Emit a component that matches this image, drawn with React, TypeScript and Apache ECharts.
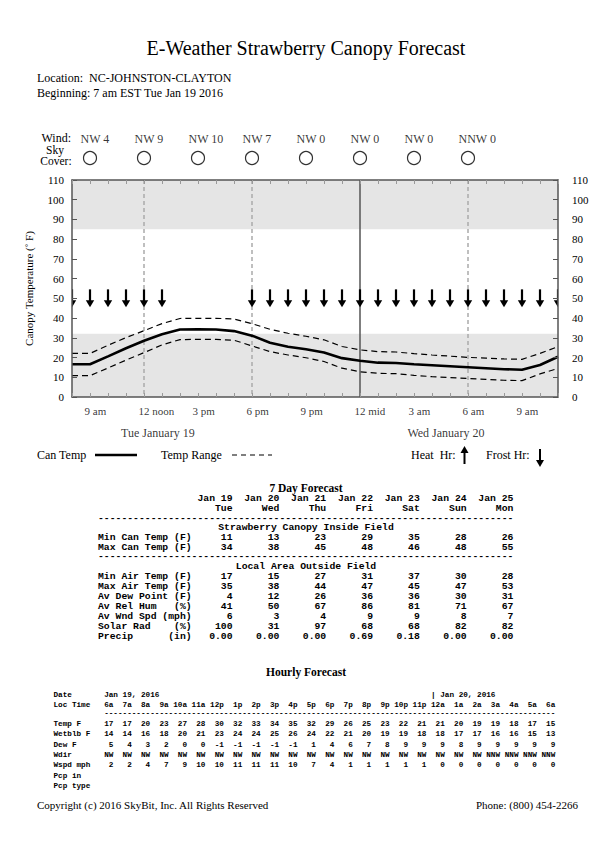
import React, { useEffect, useRef } from 'react';
import * as echarts from 'echarts';

// ---------------- data ----------------
const canTemp = [16.6, 16.6, 20.6, 24.7, 28.5, 31.8, 34.2, 34.3, 34.2, 33.4, 31.1, 27.5, 25.5, 24.2, 22.6, 19.7, 18.4, 17.4, 17.2, 16.6, 16.1, 15.6, 15.1, 14.6, 14.1, 13.8, 16.2, 20.4];
const rangeHigh = [22.1, 22.1, 26.2, 30.1, 33.6, 37.2, 39.8, 39.9, 39.9, 39.5, 37.2, 34.3, 32.3, 30.8, 29.0, 25.6, 23.9, 23.0, 22.8, 22.0, 21.3, 20.7, 20.1, 19.7, 19.3, 19.1, 22.1, 25.5];
const rangeLow = [10.8, 10.8, 14.7, 18.7, 22.5, 26.4, 29.1, 29.2, 29.2, 28.8, 25.9, 23.0, 21.3, 19.9, 18.0, 14.6, 12.8, 12.0, 11.8, 11.0, 10.3, 9.8, 9.4, 8.9, 8.5, 8.3, 11.7, 14.5];
const frostHours = [0, 1, 2, 3, 4, 5, 10, 11, 12, 13, 14, 15, 16, 17, 18, 19, 20, 21, 22, 23, 24, 25, 26, 27];
const frostLevel = 50;
const bands = [[0, 32], [85, 110]];
const dashedLineHours = [4, 10, 22];
const solidLineHours = [16];

const timeLabelHours = [1, 4, 7, 10, 13, 16, 19, 22, 25];
const timeLabels = ['9 am', '12 noon', '3 pm', '6 pm', '9 pm', '12 mid', '3 am', '6 am', '9 am'];
const dayLabelHours = [4.8, 20.8];
const dayLabels = ['Tue January 19', 'Wed January 20'];

const windHours = [1, 4, 7, 10, 13, 16, 19, 22];
const windLabels = ['NW 4', 'NW 9', 'NW 10', 'NW 7', 'NW 0', 'NW 0', 'NW 0', 'NNW 0'];

// 7 day table
const dayDates = ['Jan 19', 'Jan 20', 'Jan 21', 'Jan 22', 'Jan 23', 'Jan 24', 'Jan 25'];
const dayNames = ['Tue', 'Wed', 'Thu', 'Fri', 'Sat', 'Sun', 'Mon'];
const minCanTemp = [11, 13, 23, 29, 35, 28, 26];
const maxCanTemp = [34, 38, 45, 48, 46, 48, 55];
const minAirTemp = [17, 15, 27, 31, 37, 30, 28];
const maxAirTemp = [35, 38, 44, 47, 45, 47, 53];
const avDewPoint = [4, 12, 26, 36, 36, 30, 31];
const avRelHum = [41, 50, 67, 86, 81, 71, 67];
const avWndSpd = [6, 3, 4, 9, 9, 8, 7];
const solarRad = [100, 31, 97, 68, 68, 82, 82];
const precip = [0.0, 0.0, 0.0, 0.69, 0.18, 0.0, 0.0];

// hourly table
const hourlyTimes = ['6a', '7a', '8a', '9a', '10a', '11a', '12p', '1p', '2p', '3p', '4p', '5p', '6p', '7p', '8p', '9p', '10p', '11p', '12a', '1a', '2a', '3a', '4a', '5a', '6a'];
const hourlyTemp = [17, 17, 20, 23, 27, 28, 30, 32, 33, 34, 35, 32, 29, 26, 25, 23, 22, 21, 21, 20, 19, 19, 18, 17, 15];
const hourlyWetblb = [14, 14, 16, 18, 20, 21, 23, 24, 24, 25, 26, 24, 22, 21, 20, 19, 19, 18, 18, 17, 17, 16, 16, 15, 13];
const hourlyDew = [5, 4, 3, 2, 0, 0, -1, -1, -1, -1, -1, 1, 4, 6, 7, 8, 9, 9, 9, 8, 9, 9, 9, 9, 9];
const hourlyWdir = ['NW', 'NW', 'NW', 'NW', 'NW', 'NW', 'NW', 'NW', 'NW', 'NW', 'NW', 'NW', 'NW', 'NW', 'NW', 'NW', 'NW', 'NW', 'NW', 'NW', 'NW', 'NNW', 'NNW', 'NNW', 'NNW'];
const hourlyWspd = [2, 2, 4, 7, 9, 10, 10, 11, 11, 11, 10, 7, 4, 1, 1, 1, 1, 1, 0, 0, 0, 0, 0, 0, 0];

// ---------------- styling ----------------
const SERIF = '"Liberation Serif", "Times New Roman", serif';
const MONO = '"Liberation Mono", "Courier New", monospace';
const nb = (s: string) => s.replace(/ /g, '\u00A0');

function txt(x: number, y: number, text: string, o: any = {}) {
  const align = o.align || 'left';
  const valign = o.valign || 'middle';
  return {
    type: 'text',
    silent: true,
    z: 20,
    style: {
      text,
      x,
      y,
      fill: '#000',
      fontSize: o.size || 12,
      fontFamily: o.family || SERIF,
      fontWeight: o.weight || 'normal',
      align,
      textAlign: align,
      verticalAlign: valign,
      textVerticalAlign: valign,
    },
  };
}

function buildOption() {
  const graphics: any[] = [];
  // header
  graphics.push(txt(306, 48, 'E-Weather Strawberry Canopy Forecast', { size: 20, align: 'center' }));
  graphics.push(txt(37, 78, nb('Location:  NC-JOHNSTON-CLAYTON')));
  graphics.push(txt(37, 93, 'Beginning: 7 am EST Tue Jan 19 2016'));
  graphics.push(txt(71, 138, 'Wind:', { align: 'right' }));
  graphics.push(txt(55, 149.5, 'Sky', { align: 'center', size: 11.5 }));
  graphics.push(txt(56, 161, 'Cover:', { align: 'center', size: 11.5 }));

  // legend row
  const ly = 455;
  graphics.push(txt(37, ly, 'Can Temp'));
  graphics.push({ type: 'line', silent: true, shape: { x1: 95, y1: ly, x2: 137, y2: ly }, style: { stroke: '#000', lineWidth: 2.5 } });
  graphics.push(txt(161, ly, 'Temp Range'));
  graphics.push({ type: 'line', silent: true, shape: { x1: 232, y1: ly, x2: 272, y2: ly }, style: { stroke: '#000', lineWidth: 1.2, lineDash: [5, 4] } });
  graphics.push(txt(411, ly, nb('Heat  Hr:')));
  graphics.push({ type: 'rect', silent: true, shape: { x: 463.5, y: ly - 3, width: 2, height: 12 }, style: { fill: '#000' } });
  graphics.push({ type: 'polygon', silent: true, shape: { points: [[460.5, ly - 2], [468.5, ly - 2], [464.5, ly - 9]] }, style: { fill: '#000' } });
  graphics.push(txt(486, ly, 'Frost Hr:'));
  graphics.push({ type: 'rect', silent: true, shape: { x: 539, y: ly - 6, width: 2, height: 12 }, style: { fill: '#000' } });
  graphics.push({ type: 'polygon', silent: true, shape: { points: [[536, ly + 5], [544, ly + 5], [540, ly + 12]] }, style: { fill: '#000' } });

  // 7 day forecast table
  const t7x = 98;
  const t7 = { family: MONO, size: 9.75, weight: 'bold' };
  const row7 = (label: string, vals: (string | number)[]) =>
    nb(label + vals.map((v, i) => String(v).padStart(i === 0 ? 7 : 8)).join(''));
  graphics.push(txt(306, 488, '7 Day Forecast', { size: 11.5, weight: 'bold', align: 'center' }));
  graphics.push(txt(t7x, 498, row7(' '.repeat(16), dayDates), t7));
  graphics.push(txt(t7x, 508, row7(' '.repeat(16), dayNames), t7));
  graphics.push(txt(t7x, 518, '-'.repeat(71), t7));
  graphics.push(txt(306, 527.5, 'Strawberry Canopy Inside Field', { ...t7, align: 'center' }));
  graphics.push(txt(t7x, 537, row7('Min Can Temp (F)', minCanTemp), t7));
  graphics.push(txt(t7x, 547, row7('Max Can Temp (F)', maxCanTemp), t7));
  graphics.push(txt(t7x, 556.5, '-'.repeat(71), t7));
  graphics.push(txt(306, 566.5, 'Local Area Outside Field', { ...t7, align: 'center' }));
  const rows7: [string, (string | number)[]][] = [
    ['Min Air Temp (F)', minAirTemp],
    ['Max Air Temp (F)', maxAirTemp],
    ['Av Dew Point (F)', avDewPoint],
    ['Av Rel Hum   (%)', avRelHum],
    ['Av Wnd Spd (mph)', avWndSpd],
    ['Solar Rad    (%)', solarRad],
    ['Precip      (in)', precip.map((v) => v.toFixed(2))],
  ];
  rows7.forEach(([l, v], i) => graphics.push(txt(t7x, 576.5 + 10 * i, row7(l, v), t7)));

  // hourly table
  const thx = 53.5;
  const th = { family: MONO, size: 7.68, weight: 'bold' };
  const rowH = (label: string, vals: (string | number)[]) =>
    nb(label.padEnd(9) + vals.map((v) => String(v).padStart(4)).join(''));
  graphics.push(txt(306, 672, 'Hourly Forecast', { size: 11.5, weight: 'bold', align: 'center' }));
  graphics.push(txt(thx, 694.5, nb(('Date'.padEnd(11) + 'Jan 19, 2016').padEnd(82) + '| Jan 20, 2016'), th));
  graphics.push(txt(thx, 704.5, rowH('Loc Time', hourlyTimes), th));
  graphics.push(txt(thx, 712.5, nb(' '.repeat(11) + '-'.repeat(98)), th));
  const rowsH: [string, (string | number)[]][] = [
    ['Temp F', hourlyTemp],
    ['Wetblb F', hourlyWetblb],
    ['Dew F', hourlyDew],
    ['Wdir', hourlyWdir],
    ['Wspd mph', hourlyWspd],
    ['Pcp in', []],
    ['Pcp type', []],
  ];
  rowsH.forEach(([l, v], i) => graphics.push(txt(thx, 724 + 10.3 * i, rowH(l, v), th)));

  // footer
  graphics.push(txt(37, 805, 'Copyright (c) 2016 SkyBit, Inc. All Rights Reserved', { size: 11 }));
  graphics.push(txt(578, 805, 'Phone: (800) 454-2266', { size: 11, align: 'right' }));

  const axisLine = { show: true, onZero: false, lineStyle: { color: '#555', width: 1.5 } };
  const xBase = {
    gridIndex: 0, type: 'value', min: 0, max: 27, interval: 1, z: 6,
    axisLine,
    axisTick: { show: true, inside: true, length: 4, lineStyle: { color: '#999', width: 1 } },
    axisLabel: { show: false },
    splitLine: { show: false },
  };
  const yBase = {
    gridIndex: 0, type: 'value', min: 0, max: 110, interval: 10, z: 6,
    axisLine,
    axisTick: { show: true, inside: true, length: 5, lineStyle: { color: '#555', width: 1 } },
    splitLine: { show: false },
  };
  const labelFont = { color: '#000', fontFamily: SERIF, fontSize: 11 };
  const invisible = { color: 'rgba(0,0,0,0)' };

  return {
    animation: false,
    backgroundColor: '#fff',
    grid: [
      { left: 72, right: 54, top: 180, height: 217 },
      { left: 72, right: 54, top: 139, height: 19 },
    ],
    xAxis: [
      { ...xBase, position: 'bottom' },
      { ...xBase, position: 'top' },
      { gridIndex: 1, type: 'value', min: 0, max: 27, show: false },
    ],
    yAxis: [
      {
        ...yBase, position: 'left',
        axisLabel: { ...labelFont, margin: 8 },
        name: 'Canopy Temperature (\u02DA F)', nameLocation: 'middle', nameGap: 38, nameRotate: 90,
        nameTextStyle: { color: '#000', fontFamily: SERIF, fontSize: 11 },
      },
      { ...yBase, position: 'right', axisLabel: { ...labelFont, margin: 14 } },
      { gridIndex: 1, type: 'value', min: 0, max: 1, show: false },
    ],
    graphic: graphics,
    series: [
      {
        name: 'bands', type: 'custom', xAxisIndex: 0, yAxisIndex: 0, z: 1, silent: true,
        data: bands,
        renderItem: (params: any, api: any) => {
          const cs = params.coordSys;
          const yTop = api.coord([0, api.value(1)])[1];
          const yBot = api.coord([0, api.value(0)])[1];
          return { type: 'rect', shape: { x: cs.x, y: yTop, width: cs.width, height: yBot - yTop }, style: { fill: '#e5e5e5' } };
        },
      },
      {
        name: 'vlines', type: 'custom', xAxisIndex: 0, yAxisIndex: 0, z: 2, silent: true,
        data: dashedLineHours.map((h) => [h, 0]).concat(solidLineHours.map((h) => [h, 1])),
        renderItem: (params: any, api: any) => {
          const cs = params.coordSys;
          const x = api.coord([api.value(0), 0])[0];
          const solid = api.value(1) === 1;
          return {
            type: 'line',
            shape: { x1: x, y1: cs.y, x2: x, y2: cs.y + cs.height },
            style: solid ? { stroke: '#555', lineWidth: 1.5 } : { stroke: '#aaa', lineWidth: 1.5, lineDash: [4, 3] },
          };
        },
      },
      {
        name: 'Temp Range', type: 'line', xAxisIndex: 0, yAxisIndex: 0, z: 3, symbol: 'none', silent: true,
        data: rangeHigh.map((v, i) => [i, v]),
        lineStyle: { color: '#000', width: 1.2, type: [6, 4] },
      },
      {
        name: 'Temp Range Low', type: 'line', xAxisIndex: 0, yAxisIndex: 0, z: 3, symbol: 'none', silent: true,
        data: rangeLow.map((v, i) => [i, v]),
        lineStyle: { color: '#000', width: 1.2, type: [6, 4] },
      },
      {
        name: 'Can Temp', type: 'line', xAxisIndex: 0, yAxisIndex: 0, z: 4, symbol: 'none', silent: true,
        data: canTemp.map((v, i) => [i, v]),
        lineStyle: { color: '#000', width: 2.6 },
      },
      {
        name: 'Frost Hr', type: 'custom', xAxisIndex: 0, yAxisIndex: 0, z: 5, silent: true, clip: true,
        data: frostHours.map((h) => [h, frostLevel]),
        renderItem: (params: any, api: any) => {
          const p = api.coord([api.value(0), api.value(1)]);
          return {
            type: 'group',
            children: [
              { type: 'rect', shape: { x: p[0] - 1.1, y: p[1] - 9, width: 2.2, height: 12 }, style: { fill: '#000' } },
              { type: 'polygon', shape: { points: [[p[0] - 4.2, p[1] + 2], [p[0] + 4.2, p[1] + 2], [p[0], p[1] + 9]] }, style: { fill: '#000' } },
            ],
          };
        },
      },
      {
        name: 'time labels', type: 'scatter', xAxisIndex: 0, yAxisIndex: 0, silent: true, clip: false,
        symbolSize: 1, itemStyle: invisible,
        data: timeLabelHours.map((h, i) => ({ value: [h, 0], name: timeLabels[i] })),
        label: { show: true, formatter: '{b}', position: [-5, 14], align: 'left', verticalAlign: 'middle', ...labelFont },
      },
      {
        name: 'day labels', type: 'scatter', xAxisIndex: 0, yAxisIndex: 0, silent: true, clip: false,
        symbolSize: 1, itemStyle: invisible,
        data: dayLabelHours.map((h, i) => ({ value: [h, 0], name: dayLabels[i] })),
        label: { show: true, formatter: '{b}', position: [0, 36], align: 'center', verticalAlign: 'middle', color: '#000', fontFamily: SERIF, fontSize: 12 },
      },
      {
        name: 'sky cover', type: 'scatter', xAxisIndex: 2, yAxisIndex: 2, silent: true, clip: false,
        symbol: 'circle', symbolSize: 13,
        data: windHours.map((h) => [h, 0]),
        itemStyle: { color: '#fff', borderColor: '#000', borderWidth: 1.2 },
      },
      {
        name: 'wind', type: 'scatter', xAxisIndex: 2, yAxisIndex: 2, silent: true, clip: false,
        symbolSize: 1, itemStyle: invisible,
        data: windHours.map((h, i) => ({ value: [h, 1], name: windLabels[i] })),
        label: { show: true, formatter: '{b}', position: [-9, 0], align: 'left', verticalAlign: 'middle', color: '#000', fontFamily: SERIF, fontSize: 12 },
      },
    ],
  };
}

export default function App() {
  const ref = useRef<HTMLDivElement>(null);
  useEffect(() => {
    const chart = echarts.init(ref.current!, null, { renderer: 'svg' });
    chart.setOption(buildOption() as any);
    return () => chart.dispose();
  }, []);
  return (
    <div
      ref={ref}
      style={{ position: 'absolute', left: 0, top: 0, width: 612, height: 864, background: '#fff' }}
    />
  );
}
